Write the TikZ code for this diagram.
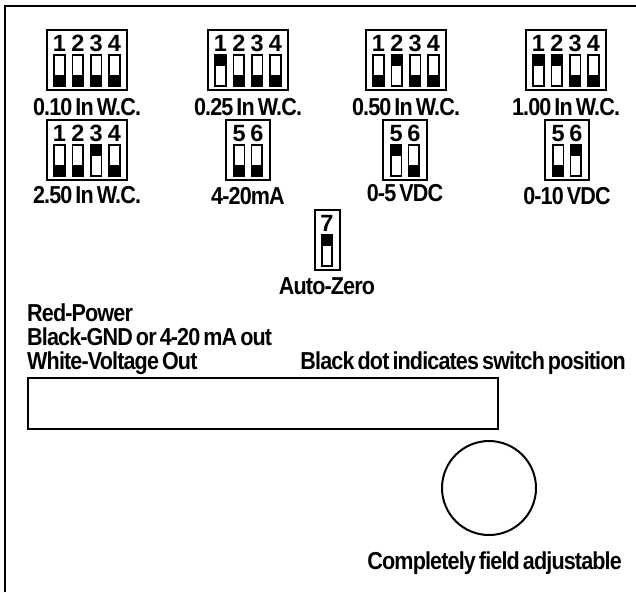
\documentclass[tikz,border=0pt]{standalone}
\usepackage{graphicx}
\usepackage{fontspec}
\setmainfont{Liberation Sans}
\newfontfamily\tightsans[LetterSpace=-4.0, WordSpace=0.6]{Liberation Sans}
\newcommand{\nt}[1]{\scalebox{0.88}[1]{#1}}
\tikzset{
  dipbox/.style={draw, line width=2pt, minimum height=60pt, inner sep=0pt, anchor=north},
  swbox/.style={draw, line width=1.8pt, minimum width=10.5pt, minimum height=31pt, inner sep=0pt},
  digit/.style={anchor=base, inner sep=0pt, font=\bfseries\fontsize{23.5}{26}\selectfont},
  lbl/.style={anchor=base, inner sep=0pt, font=\tightsans\bfseries\fontsize{24.5}{28}\selectfont},
  txt/.style={inner sep=0pt, font=\tightsans\bfseries\fontsize{24.5}{28}\selectfont},
}
\newcommand{\mydip}[5]{% name, cx, top, width, list offset/digit/state
  \node[dipbox, minimum width=#4] (#1) at (#2,#3) {};
  \foreach \o/\d/\s in {#5} {
    \node[digit] (#1-\d) at (#2+\o,#3+22) {\d};
    \node[swbox] (#1-sw\d) at (#2+\o,#3+41.5) {};
    \ifnum\s=1
      \fill (#1-sw\d.north west) rectangle ++(10.5,12);
    \else
      \fill (#1-sw\d.south west) rectangle ++(10.5,-12);
    \fi
  }
}
\begin{document}
\begin{tikzpicture}[x=1pt,y=-1pt]
\useasboundingbox (0,0) rectangle (636,592);
% outer frame
\coordinate (fbl) at (5,592);
\coordinate (ftl) at (5,6);
\coordinate (ftr) at (636,6);
\draw[line width=2.5pt] (fbl) -- (ftl) -- (ftr);
% row 1
\mydip{da}{87}{29}{80pt}{-27.5/1/0,-9.2/2/0,9.2/3/0,27.5/4/0}
\node[lbl] (la) at (87,115) {\nt{0.10 In W.C.}};
\mydip{db}{248}{29}{80pt}{-27.5/1/1,-9.2/2/0,9.2/3/0,27.5/4/0}
\node[lbl] (lb) at (248,115) {\nt{0.25 In W.C.}};
\mydip{dc}{406}{29}{80pt}{-27.5/1/0,-9.2/2/1,9.2/3/0,27.5/4/0}
\node[lbl] (lc) at (406,115) {\nt{0.50 In W.C.}};
\mydip{dd}{566}{29}{80pt}{-27.5/1/1,-9.2/2/1,9.2/3/0,27.5/4/0}
\node[lbl] (ld) at (566,115) {\nt{1.00 In W.C.}};
% row 2
\mydip{de}{87}{119}{80pt}{-27.5/1/0,-9.2/2/0,9.2/3/1,27.5/4/0}
\node[lbl] (le) at (87,203) {\nt{2.50 In W.C.}};
\mydip{df}{248}{119}{44pt}{-8.8/5/0,8.8/6/0}
\node[lbl] (lf) at (248,204) {\nt{4-20mA}};
\mydip{dg}{405}{119}{44pt}{-8.8/5/1,8.8/6/0}
\node[lbl] (lg) at (405,201) {\nt{0-5 VDC}};
\mydip{dh}{567}{119}{44pt}{-8.8/5/0,8.8/6/1}
\node[lbl] (lh) at (567,204) {\nt{0-10 VDC}};
% auto zero
\mydip{di}{327}{209}{25pt}{0/7/1}
\node[lbl] (li) at (327,294) {\nt{Auto-Zero}};
% wire text
\node[txt, anchor=base west] (t1) at (27,321) {\nt{Red-Power}};
\node[txt, anchor=base west] (t2) at (27,345) {\nt{Black-GND or 4-20 mA out}};
\node[txt, anchor=base west] (t3) at (27,369) {\nt{White-Voltage Out}};
\node[txt, anchor=base east] (t4) at (626,369) {\nt{Black dot indicates switch position}};
% window
\node[draw, line width=2pt, minimum width=470pt, minimum height=51pt, anchor=north west, inner sep=0pt] (window) at (27,377) {};
% knob
\node[draw, circle, line width=2pt, minimum size=94pt, inner sep=0pt] (knob) at (489,488) {};
\node[txt, anchor=base east] (t5) at (622,569) {\nt{Completely field adjustable}};
\end{tikzpicture}
\end{document}
